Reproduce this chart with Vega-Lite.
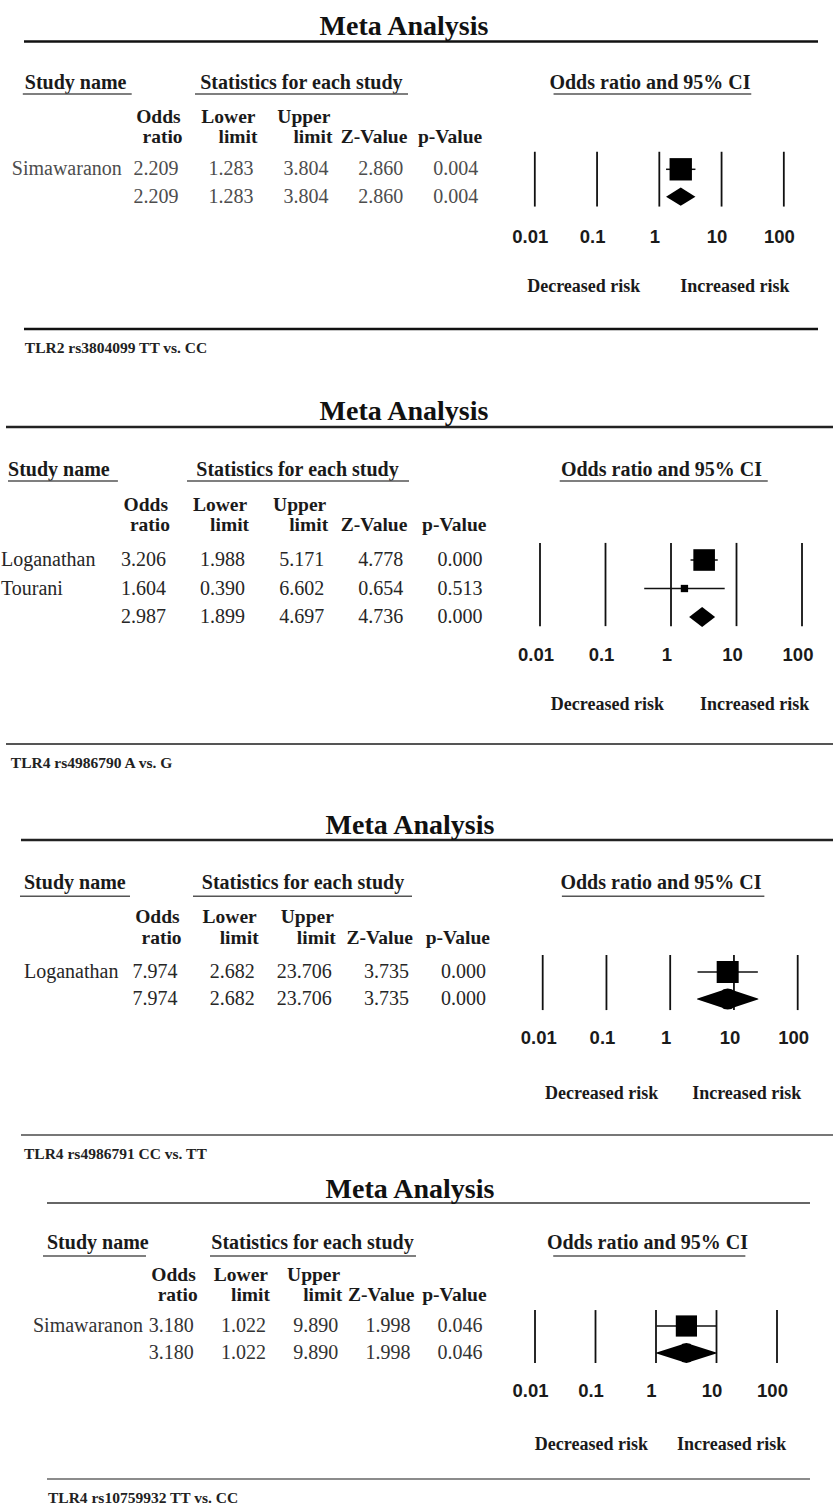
{
  "$schema": "https://vega.github.io/schema/vega-lite/v6.json",
  "padding": 0,
  "spacing": 0,
  "bounds": "flush",
  "background": "white",
  "datasets": {
    "studies": [
      {"panel": 1, "row": 1, "study": "Simawaranon", "type": "study", "or": 2.209, "lower": 1.283, "upper": 3.804, "z": 2.860, "p": 0.004, "weight": 100},
      {"panel": 1, "row": 2, "study": "", "type": "summary", "or": 2.209, "lower": 1.283, "upper": 3.804, "z": 2.860, "p": 0.004},
      {"panel": 2, "row": 1, "study": "Loganathan", "type": "study", "or": 3.206, "lower": 1.988, "upper": 5.171, "z": 4.778, "p": 0.000, "weight": 89.7},
      {"panel": 2, "row": 2, "study": "Tourani", "type": "study", "or": 1.604, "lower": 0.390, "upper": 6.602, "z": 0.654, "p": 0.513, "weight": 10.3},
      {"panel": 2, "row": 3, "study": "", "type": "summary", "or": 2.987, "lower": 1.899, "upper": 4.697, "z": 4.736, "p": 0.000},
      {"panel": 3, "row": 1, "study": "Loganathan", "type": "study", "or": 7.974, "lower": 2.682, "upper": 23.706, "z": 3.735, "p": 0.000, "weight": 100},
      {"panel": 3, "row": 2, "study": "", "type": "summary", "or": 7.974, "lower": 2.682, "upper": 23.706, "z": 3.735, "p": 0.000},
      {"panel": 4, "row": 1, "study": "Simawaranon", "type": "study", "or": 3.180, "lower": 1.022, "upper": 9.890, "z": 1.998, "p": 0.046, "weight": 100},
      {"panel": 4, "row": 2, "study": "", "type": "summary", "or": 3.180, "lower": 1.022, "upper": 9.890, "z": 1.998, "p": 0.046}
    ],
    "headers": [
      {"key": "or", "top": "Odds", "bottom": "ratio"},
      {"key": "lower", "top": "Lower", "bottom": "limit"},
      {"key": "upper", "top": "Upper", "bottom": "limit"},
      {"key": "z", "top": "", "bottom": "Z-Value"},
      {"key": "p", "top": "", "bottom": "p-Value"}
    ],
    "ticks": [
      {"v": 0.01, "label": "0.01"},
      {"v": 0.1, "label": "0.1"},
      {"v": 1, "label": "1"},
      {"v": 10, "label": "10"},
      {"v": 100, "label": "100"}
    ]
  },
  "vconcat": [
    {
      "width": 833, "height": 370,
      "resolve": {"scale": {"x": "independent"}},
      "layer": [
        {
          "layer": [
            {"data": {"values": [{}]}, "mark": {"type": "rule", "stroke": "#111", "strokeWidth": 2.5, "xOffset": -8.8, "x2Offset": 335.8},
             "encoding": {"x": {"datum": "name", "type": "nominal", "scale": {"type": "point", "domain": ["name", "gap", "or", "lower", "upper", "z", "p", "f1", "f2", "f3", "f4"], "padding": 0.5607, "align": 0.3905, "round": false}}, "x2": {"datum": "p"},
                          "y": {"datum": -3.66, "type": "quantitative", "scale": {"domain": [-5.179, 8.325], "reverse": true, "nice": false, "zero": false}}}},
            {"data": {"values": [{}]}, "mark": {"type": "rule", "stroke": "#111", "strokeWidth": 2.5, "xOffset": -8.8, "x2Offset": 335.8},
             "encoding": {"x": {"datum": "name", "type": "nominal"}, "x2": {"datum": "p"}, "y": {"datum": 6.83, "type": "quantitative"}}},
            {"data": {"values": [{}]}, "mark": {"type": "text", "text": "Meta Analysis", "font": "Liberation Serif", "fontWeight": "bold", "fontSize": 28, "align": "center", "baseline": "middle", "dx": 71.6, "fill": "#111"},
             "encoding": {"x": {"datum": "upper", "type": "nominal"}, "y": {"datum": -4.2, "type": "quantitative"}}},
            {"data": {"values": [{}]}, "mark": {"type": "text", "text": "Study name", "font": "Liberation Serif", "fontWeight": "bold", "fontSize": 20, "align": "left", "baseline": "middle", "dx": -8, "fill": "#1a1a1a"},
             "encoding": {"x": {"datum": "name", "type": "nominal"}, "y": {"datum": -2.16, "type": "quantitative"}}},
            {"data": {"values": [{}]}, "mark": {"type": "text", "text": "Statistics for each study", "font": "Liberation Serif", "fontWeight": "bold", "fontSize": 20, "align": "center", "baseline": "middle", "dx": -31, "fill": "#1a1a1a"},
             "encoding": {"x": {"datum": "upper", "type": "nominal"}, "y": {"datum": -2.16, "type": "quantitative"}}},
            {"data": {"values": [{}]}, "mark": {"type": "rule", "stroke": "#555", "strokeWidth": 1.5, "xOffset": -10, "x2Offset": 24},
             "encoding": {"x": {"datum": "name", "type": "nominal"}, "x2": {"datum": "gap"}, "y": {"datum": -1.75, "type": "quantitative"}}},
            {"data": {"values": [{}]}, "mark": {"type": "rule", "stroke": "#555", "strokeWidth": 1.5, "xOffset": 12.4, "x2Offset": 0.7},
             "encoding": {"x": {"datum": "or", "type": "nominal"}, "x2": {"datum": "z"}, "y": {"datum": -1.75, "type": "quantitative"}}},
            {"data": {"name": "headers"}, "mark": {"type": "text", "font": "Liberation Serif", "fontWeight": "bold", "fontSize": 19.5, "align": "right", "baseline": "middle", "dx": -2, "fill": "#1a1a1a"},
             "encoding": {"x": {"field": "key", "type": "nominal"}, "y": {"datum": -0.92, "type": "quantitative"}, "text": {"field": "top"}}},
            {"data": {"name": "headers"}, "mark": {"type": "text", "font": "Liberation Serif", "fontWeight": "bold", "fontSize": 19.5, "align": "right", "baseline": "middle", "dx": 0, "fill": "#1a1a1a"},
             "encoding": {"x": {"field": "key", "type": "nominal"}, "y": {"datum": -0.19, "type": "quantitative"}, "text": {"field": "bottom"}}},
            {"data": {"name": "studies"}, "transform": [{"filter": "datum.panel === 1 && datum.type === 'study'"}],
             "mark": {"type": "text", "font": "Liberation Serif", "fontSize": 20, "align": "left", "baseline": "middle", "dx": -21, "fill": "#4d4d4d"},
             "encoding": {"x": {"datum": "name", "type": "nominal"}, "y": {"field": "row", "type": "quantitative"}, "text": {"field": "study"}}},
            {"data": {"name": "studies"}, "transform": [{"filter": "datum.panel === 1"}, {"fold": ["or", "lower", "upper", "z", "p"], "as": ["key", "value"]}],
             "mark": {"type": "text", "font": "Liberation Serif", "fontSize": 20, "align": "right", "baseline": "middle", "dx": -4, "fill": "#4d4d4d"},
             "encoding": {"x": {"field": "key", "type": "nominal"}, "y": {"field": "row", "type": "quantitative"}, "text": {"field": "value", "type": "quantitative", "format": ".3f"}}},
            {"data": {"values": [{}]}, "mark": {"type": "text", "text": "TLR2 rs3804099 TT vs. CC", "font": "Liberation Serif", "fontWeight": "bold", "fontSize": 15.5, "align": "left", "baseline": "middle", "dx": -8, "fill": "#222"},
             "encoding": {"x": {"datum": "name", "type": "nominal"}, "y": {"datum": 7.51, "type": "quantitative"}}}
          ]
        },
        {
          "resolve": {"scale": {"size": "independent"}},
          "layer": [
            {"data": {"name": "ticks"}, "mark": {"type": "rule", "stroke": "#111", "strokeWidth": 1.8},
             "encoding": {"x": {"field": "v", "type": "quantitative", "scale": {"type": "log", "domain": [2.564e-11, 616.6], "nice": false}}, "y": {"datum": 0.36, "type": "quantitative"}, "y2": {"datum": 2.36}}},
            {"data": {"name": "ticks"}, "mark": {"type": "text", "font": "Liberation Sans", "fontWeight": "bold", "fontSize": 18.5, "align": "center", "baseline": "middle", "dx": -4.5, "fill": "#1a1a1a"},
             "encoding": {"x": {"field": "v", "type": "quantitative"}, "y": {"datum": 3.46, "type": "quantitative"}, "text": {"field": "label"}}},
            {"data": {"name": "studies"}, "transform": [{"filter": "datum.panel === 1 && datum.type === 'study'"}], "mark": {"type": "rule", "stroke": "#111", "strokeWidth": 1.5},
             "encoding": {"x": {"field": "lower", "type": "quantitative"}, "x2": {"field": "upper"}, "y": {"field": "row", "type": "quantitative"}}},
            {"data": {"name": "studies"}, "transform": [{"filter": "datum.panel === 1 && datum.type === 'study'"}], "mark": {"type": "point", "shape": "square", "filled": true, "color": "#000", "opacity": 1},
             "encoding": {"x": {"field": "or", "type": "quantitative"}, "y": {"field": "row", "type": "quantitative"}, "size": {"field": "weight", "type": "quantitative", "scale": {"domain": [0, 100], "range": [0, 500]}, "legend": null}}},
            {"data": {"name": "studies"}, "transform": [{"filter": "datum.panel === 1 && datum.type === 'summary'"}], "mark": {"type": "point", "shape": "M-1,0L0,-0.62L1,0L0,0.62Z", "size": 864, "filled": true, "color": "#000", "opacity": 1},
             "encoding": {"x": {"field": "or", "type": "quantitative"}, "y": {"field": "row", "type": "quantitative"}}},
            {"data": {"values": [{}]}, "mark": {"type": "text", "text": "Odds ratio and 95% CI", "font": "Liberation Serif", "fontWeight": "bold", "fontSize": 20, "align": "center", "baseline": "middle", "dx": -9.3, "fill": "#1a1a1a"},
             "encoding": {"x": {"datum": 1, "type": "quantitative"}, "y": {"datum": -2.16, "type": "quantitative"}}},
            {"data": {"values": [{}]}, "mark": {"type": "rule", "stroke": "#555", "strokeWidth": 1.5},
             "encoding": {"x": {"datum": 0.02, "type": "quantitative"}, "x2": {"datum": 30}, "y": {"datum": -1.75, "type": "quantitative"}}},
            {"data": {"values": [{}]}, "mark": {"type": "text", "text": "Decreased risk", "font": "Liberation Serif", "fontWeight": "bold", "fontSize": 18, "align": "right", "baseline": "middle", "dx": -19, "fill": "#1a1a1a"},
             "encoding": {"x": {"datum": 1, "type": "quantitative"}, "y": {"datum": 5.31, "type": "quantitative"}}},
            {"data": {"values": [{}]}, "mark": {"type": "text", "text": "Increased risk", "font": "Liberation Serif", "fontWeight": "bold", "fontSize": 18, "align": "left", "baseline": "middle", "dx": 21, "fill": "#1a1a1a"},
             "encoding": {"x": {"datum": 1, "type": "quantitative"}, "y": {"datum": 5.31, "type": "quantitative"}}}
          ]
        }
      ]
    },
    {
      "width": 833, "height": 420,
      "resolve": {"scale": {"x": "independent"}},
      "layer": [
        {
          "layer": [
            {"data": {"values": [{}]}, "mark": {"type": "rule", "stroke": "#222", "strokeWidth": 2.5, "xOffset": -5.8, "x2Offset": 346.6},
             "encoding": {"x": {"datum": "name", "type": "nominal", "scale": {"type": "point", "domain": ["name", "gap", "or", "lower", "upper", "z", "p", "f1", "f2", "f3", "f4"], "padding": 0.2655, "align": 0.281, "round": false}}, "x2": {"datum": "p"},
                          "y": {"datum": -3.67, "type": "quantitative", "scale": {"domain": [-5.667, 9.070], "reverse": true, "nice": false, "zero": false}}}},
            {"data": {"values": [{}]}, "mark": {"type": "rule", "stroke": "#555", "strokeWidth": 2, "xOffset": -5.8, "x2Offset": 346.6},
             "encoding": {"x": {"datum": "name", "type": "nominal"}, "x2": {"datum": "p"}, "y": {"datum": 7.46, "type": "quantitative"}}},
            {"data": {"values": [{}]}, "mark": {"type": "text", "text": "Meta Analysis", "font": "Liberation Serif", "fontWeight": "bold", "fontSize": 28, "align": "center", "baseline": "middle", "dx": 75.8, "fill": "#111"},
             "encoding": {"x": {"datum": "upper", "type": "nominal"}, "y": {"datum": -4.19, "type": "quantitative"}}},
            {"data": {"values": [{}]}, "mark": {"type": "text", "text": "Study name", "font": "Liberation Serif", "fontWeight": "bold", "fontSize": 20, "align": "left", "baseline": "middle", "dx": -3.8, "fill": "#1a1a1a"},
             "encoding": {"x": {"datum": "name", "type": "nominal"}, "y": {"datum": -2.16, "type": "quantitative"}}},
            {"data": {"values": [{}]}, "mark": {"type": "text", "text": "Statistics for each study", "font": "Liberation Serif", "fontWeight": "bold", "fontSize": 20, "align": "center", "baseline": "middle", "dx": -30.7, "fill": "#1a1a1a"},
             "encoding": {"x": {"datum": "upper", "type": "nominal"}, "y": {"datum": -2.16, "type": "quantitative"}}},
            {"data": {"values": [{}]}, "mark": {"type": "rule", "stroke": "#555", "strokeWidth": 1.5, "xOffset": -3.8, "x2Offset": 27},
             "encoding": {"x": {"datum": "name", "type": "nominal"}, "x2": {"datum": "gap"}, "y": {"datum": -1.77, "type": "quantitative"}}},
            {"data": {"values": [{}]}, "mark": {"type": "rule", "stroke": "#555", "strokeWidth": 1.5, "xOffset": 17, "x2Offset": 1.7},
             "encoding": {"x": {"datum": "or", "type": "nominal"}, "x2": {"datum": "z"}, "y": {"datum": -1.77, "type": "quantitative"}}},
            {"data": {"name": "headers"}, "mark": {"type": "text", "font": "Liberation Serif", "fontWeight": "bold", "fontSize": 19.5, "align": "right", "baseline": "middle", "dx": -2, "fill": "#1a1a1a"},
             "encoding": {"x": {"field": "key", "type": "nominal"}, "y": {"datum": -0.93, "type": "quantitative"}, "text": {"field": "top"}}},
            {"data": {"name": "headers"}, "mark": {"type": "text", "font": "Liberation Serif", "fontWeight": "bold", "fontSize": 19.5, "align": "right", "baseline": "middle", "dx": 0, "fill": "#1a1a1a"},
             "encoding": {"x": {"field": "key", "type": "nominal"}, "y": {"datum": -0.23, "type": "quantitative"}, "text": {"field": "bottom"}}},
            {"data": {"name": "studies"}, "transform": [{"filter": "datum.panel === 2 && datum.type === 'study'"}],
             "mark": {"type": "text", "font": "Liberation Serif", "fontSize": 20, "align": "left", "baseline": "middle", "dx": -10.8, "fill": "#262626"},
             "encoding": {"x": {"datum": "name", "type": "nominal"}, "y": {"field": "row", "type": "quantitative"}, "text": {"field": "study"}}},
            {"data": {"name": "studies"}, "transform": [{"filter": "datum.panel === 2"}, {"fold": ["or", "lower", "upper", "z", "p"], "as": ["key", "value"]}],
             "mark": {"type": "text", "font": "Liberation Serif", "fontSize": 20, "align": "right", "baseline": "middle", "dx": -4, "fill": "#262626"},
             "encoding": {"x": {"field": "key", "type": "nominal"}, "y": {"field": "row", "type": "quantitative"}, "text": {"field": "value", "type": "quantitative", "format": ".3f"}}},
            {"data": {"values": [{}]}, "mark": {"type": "text", "text": "TLR4 rs4986790  A vs. G", "font": "Liberation Serif", "fontWeight": "bold", "fontSize": 15.5, "align": "left", "baseline": "middle", "dx": -1, "fill": "#222"},
             "encoding": {"x": {"datum": "name", "type": "nominal"}, "y": {"datum": 8.12, "type": "quantitative"}}}
          ]
        },
        {
          "resolve": {"scale": {"size": "independent"}},
          "layer": [
            {"data": {"name": "ticks"}, "mark": {"type": "rule", "stroke": "#111", "strokeWidth": 1.8},
             "encoding": {"x": {"field": "v", "type": "quantitative", "scale": {"type": "log", "domain": [5.70e-11, 297.3], "nice": false}}, "y": {"datum": 0.40, "type": "quantitative"}, "y2": {"datum": 3.32}}},
            {"data": {"name": "ticks"}, "mark": {"type": "text", "font": "Liberation Sans", "fontWeight": "bold", "fontSize": 18.5, "align": "center", "baseline": "middle", "dx": -4, "fill": "#1a1a1a"},
             "encoding": {"x": {"field": "v", "type": "quantitative"}, "y": {"datum": 4.33, "type": "quantitative"}, "text": {"field": "label"}}},
            {"data": {"name": "studies"}, "transform": [{"filter": "datum.panel === 2 && datum.type === 'study'"}], "mark": {"type": "rule", "stroke": "#111", "strokeWidth": 1.5},
             "encoding": {"x": {"field": "lower", "type": "quantitative"}, "x2": {"field": "upper"}, "y": {"field": "row", "type": "quantitative"}}},
            {"data": {"name": "studies"}, "transform": [{"filter": "datum.panel === 2 && datum.type === 'study'"}], "mark": {"type": "point", "shape": "square", "filled": true, "color": "#000", "opacity": 1},
             "encoding": {"x": {"field": "or", "type": "quantitative"}, "y": {"field": "row", "type": "quantitative"}, "size": {"field": "weight", "type": "quantitative", "scale": {"domain": [0, 100], "range": [0, 520]}, "legend": null}}},
            {"data": {"name": "studies"}, "transform": [{"filter": "datum.panel === 2 && datum.type === 'summary'"}], "mark": {"type": "point", "shape": "M-1,0L0,-0.77L1,0L0,0.77Z", "size": 676, "filled": true, "color": "#000", "opacity": 1},
             "encoding": {"x": {"field": "or", "type": "quantitative"}, "y": {"field": "row", "type": "quantitative"}}},
            {"data": {"values": [{}]}, "mark": {"type": "text", "text": "Odds ratio and 95% CI", "font": "Liberation Serif", "fontWeight": "bold", "fontSize": 20, "align": "center", "baseline": "middle", "dx": -9.5, "fill": "#1a1a1a"},
             "encoding": {"x": {"datum": 1, "type": "quantitative"}, "y": {"datum": -2.16, "type": "quantitative"}}},
            {"data": {"values": [{}]}, "mark": {"type": "rule", "stroke": "#555", "strokeWidth": 1.5},
             "encoding": {"x": {"datum": 0.02, "type": "quantitative"}, "x2": {"datum": 30}, "y": {"datum": -1.77, "type": "quantitative"}}},
            {"data": {"values": [{}]}, "mark": {"type": "text", "text": "Decreased risk", "font": "Liberation Serif", "fontWeight": "bold", "fontSize": 18, "align": "right", "baseline": "middle", "dx": -7, "fill": "#1a1a1a"},
             "encoding": {"x": {"datum": 1, "type": "quantitative"}, "y": {"datum": 6.09, "type": "quantitative"}}},
            {"data": {"values": [{}]}, "mark": {"type": "text", "text": "Increased risk", "font": "Liberation Serif", "fontWeight": "bold", "fontSize": 18, "align": "left", "baseline": "middle", "dx": 29, "fill": "#1a1a1a"},
             "encoding": {"x": {"datum": 1, "type": "quantitative"}, "y": {"datum": 6.09, "type": "quantitative"}}}
          ]
        }
      ]
    },
    {
      "width": 833, "height": 380,
      "resolve": {"scale": {"x": "independent"}},
      "layer": [
        {
          "layer": [
            {"data": {"values": [{}]}, "mark": {"type": "rule", "stroke": "#222", "strokeWidth": 2.5, "xOffset": -6.4, "x2Offset": 343},
             "encoding": {"x": {"datum": "name", "type": "nominal", "scale": {"type": "point", "domain": ["name", "gap", "or", "lower", "upper", "z", "p", "f1", "f2", "f3", "f4"], "padding": 0.402, "align": 0.4419, "round": false}}, "x2": {"datum": "p"},
                          "y": {"datum": -3.89, "type": "quantitative", "scale": {"domain": [-5.741, 8.333], "reverse": true, "nice": false, "zero": false}}}},
            {"data": {"values": [{}]}, "mark": {"type": "rule", "stroke": "#777", "strokeWidth": 2, "xOffset": -6.4, "x2Offset": 343},
             "encoding": {"x": {"datum": "name", "type": "nominal"}, "x2": {"datum": "p"}, "y": {"datum": 7.04, "type": "quantitative"}}},
            {"data": {"values": [{}]}, "mark": {"type": "text", "text": "Meta Analysis", "font": "Liberation Serif", "fontWeight": "bold", "fontSize": 28, "align": "center", "baseline": "middle", "dx": 74.2, "fill": "#111"},
             "encoding": {"x": {"datum": "upper", "type": "nominal"}, "y": {"datum": -4.41, "type": "quantitative"}}},
            {"data": {"values": [{}]}, "mark": {"type": "text", "text": "Study name", "font": "Liberation Serif", "fontWeight": "bold", "fontSize": 20, "align": "left", "baseline": "middle", "dx": -3.4, "fill": "#1a1a1a"},
             "encoding": {"x": {"datum": "name", "type": "nominal"}, "y": {"datum": -2.30, "type": "quantitative"}}},
            {"data": {"values": [{}]}, "mark": {"type": "text", "text": "Statistics for each study", "font": "Liberation Serif", "fontWeight": "bold", "fontSize": 20, "align": "center", "baseline": "middle", "dx": -32.8, "fill": "#1a1a1a"},
             "encoding": {"x": {"datum": "upper", "type": "nominal"}, "y": {"datum": -2.30, "type": "quantitative"}}},
            {"data": {"values": [{}]}, "mark": {"type": "rule", "stroke": "#555", "strokeWidth": 1.5, "xOffset": -7.4, "x2Offset": 25.5},
             "encoding": {"x": {"datum": "name", "type": "nominal"}, "x2": {"datum": "gap"}, "y": {"datum": -1.81, "type": "quantitative"}}},
            {"data": {"values": [{}]}, "mark": {"type": "rule", "stroke": "#555", "strokeWidth": 1.5, "xOffset": 11.4, "x2Offset": -0.9},
             "encoding": {"x": {"datum": "or", "type": "nominal"}, "x2": {"datum": "z"}, "y": {"datum": -1.81, "type": "quantitative"}}},
            {"data": {"name": "headers"}, "mark": {"type": "text", "font": "Liberation Serif", "fontWeight": "bold", "fontSize": 19.5, "align": "right", "baseline": "middle", "dx": -2, "fill": "#1a1a1a"},
             "encoding": {"x": {"field": "key", "type": "nominal"}, "y": {"datum": -1.04, "type": "quantitative"}, "text": {"field": "top"}}},
            {"data": {"name": "headers"}, "mark": {"type": "text", "font": "Liberation Serif", "fontWeight": "bold", "fontSize": 19.5, "align": "right", "baseline": "middle", "dx": 0, "fill": "#1a1a1a"},
             "encoding": {"x": {"field": "key", "type": "nominal"}, "y": {"datum": -0.26, "type": "quantitative"}, "text": {"field": "bottom"}}},
            {"data": {"name": "studies"}, "transform": [{"filter": "datum.panel === 3 && datum.type === 'study'"}],
             "mark": {"type": "text", "font": "Liberation Serif", "fontSize": 20, "align": "left", "baseline": "middle", "dx": -3.4, "fill": "#262626"},
             "encoding": {"x": {"datum": "name", "type": "nominal"}, "y": {"field": "row", "type": "quantitative"}, "text": {"field": "study"}}},
            {"data": {"name": "studies"}, "transform": [{"filter": "datum.panel === 3"}, {"fold": ["or", "lower", "upper", "z", "p"], "as": ["key", "value"]}],
             "mark": {"type": "text", "font": "Liberation Serif", "fontSize": 20, "align": "right", "baseline": "middle", "dx": -4, "fill": "#262626"},
             "encoding": {"x": {"field": "key", "type": "nominal"}, "y": {"field": "row", "type": "quantitative"}, "text": {"field": "value", "type": "quantitative", "format": ".3f"}}},
            {"data": {"values": [{}]}, "mark": {"type": "text", "text": "TLR4 rs4986791  CC vs. TT", "font": "Liberation Serif", "fontWeight": "bold", "fontSize": 15.5, "align": "left", "baseline": "middle", "dx": -3.4, "fill": "#222"},
             "encoding": {"x": {"datum": "name", "type": "nominal"}, "y": {"datum": 7.74, "type": "quantitative"}}}
          ]
        },
        {
          "resolve": {"scale": {"size": "independent"}},
          "layer": [
            {"data": {"name": "ticks"}, "mark": {"type": "rule", "stroke": "#111", "strokeWidth": 1.8},
             "encoding": {"x": {"field": "v", "type": "quantitative", "scale": {"type": "log", "domain": [3.069e-11, 357.9], "nice": false}}, "y": {"datum": 0.37, "type": "quantitative"}, "y2": {"datum": 2.41}}},
            {"data": {"name": "ticks"}, "mark": {"type": "text", "font": "Liberation Sans", "fontWeight": "bold", "fontSize": 18.5, "align": "center", "baseline": "middle", "dx": -4, "fill": "#1a1a1a"},
             "encoding": {"x": {"field": "v", "type": "quantitative"}, "y": {"datum": 3.44, "type": "quantitative"}, "text": {"field": "label"}}},
            {"data": {"name": "studies"}, "transform": [{"filter": "datum.panel === 3 && datum.type === 'study'"}], "mark": {"type": "rule", "stroke": "#111", "strokeWidth": 1.5},
             "encoding": {"x": {"field": "lower", "type": "quantitative"}, "x2": {"field": "upper"}, "y": {"field": "row", "type": "quantitative"}}},
            {"data": {"name": "studies"}, "transform": [{"filter": "datum.panel === 3 && datum.type === 'study'"}], "mark": {"type": "point", "shape": "square", "filled": true, "color": "#000", "opacity": 1},
             "encoding": {"x": {"field": "or", "type": "quantitative"}, "y": {"field": "row", "type": "quantitative"}, "size": {"field": "weight", "type": "quantitative", "scale": {"domain": [0, 100], "range": [0, 484]}, "legend": null}}},
            {"data": {"name": "studies"}, "transform": [{"filter": "datum.panel === 3 && datum.type === 'summary'"}, {"fold": ["lower", "or", "upper"], "as": ["vk", "vv"]}], "mark": {"type": "trail", "color": "#000"},
             "encoding": {"x": {"field": "vv", "type": "quantitative"}, "y": {"field": "row", "type": "quantitative"}, "size": {"field": "vk", "type": "ordinal", "scale": {"type": "ordinal", "domain": ["lower", "or", "upper"], "range": [0, 21, 0]}, "legend": null}}},
            {"data": {"values": [{}]}, "mark": {"type": "text", "text": "Odds ratio and 95% CI", "font": "Liberation Serif", "fontWeight": "bold", "fontSize": 20, "align": "center", "baseline": "middle", "dx": -9.2, "fill": "#1a1a1a"},
             "encoding": {"x": {"datum": 1, "type": "quantitative"}, "y": {"datum": -2.30, "type": "quantitative"}}},
            {"data": {"values": [{}]}, "mark": {"type": "rule", "stroke": "#555", "strokeWidth": 1.5},
             "encoding": {"x": {"datum": 0.02, "type": "quantitative"}, "x2": {"datum": 30}, "y": {"datum": -1.81, "type": "quantitative"}}},
            {"data": {"values": [{}]}, "mark": {"type": "text", "text": "Decreased risk", "font": "Liberation Serif", "fontWeight": "bold", "fontSize": 18, "align": "right", "baseline": "middle", "dx": -12, "fill": "#1a1a1a"},
             "encoding": {"x": {"datum": 1, "type": "quantitative"}, "y": {"datum": 5.52, "type": "quantitative"}}},
            {"data": {"values": [{}]}, "mark": {"type": "text", "text": "Increased risk", "font": "Liberation Serif", "fontWeight": "bold", "fontSize": 18, "align": "left", "baseline": "middle", "dx": 22, "fill": "#1a1a1a"},
             "encoding": {"x": {"datum": 1, "type": "quantitative"}, "y": {"datum": 5.52, "type": "quantitative"}}}
          ]
        }
      ]
    },
    {
      "width": 833, "height": 333,
      "resolve": {"scale": {"x": "independent"}},
      "layer": [
        {
          "layer": [
            {"data": {"values": [{}]}, "mark": {"type": "rule", "stroke": "#333", "strokeWidth": 1.5, "xOffset": -6.4, "x2Offset": 323.4},
             "encoding": {"x": {"datum": "name", "type": "nominal", "scale": {"type": "point", "domain": ["name", "gap", "or", "lower", "upper", "z", "p", "f1", "f2", "f3", "f4"], "padding": 0.7687, "align": 0.481, "round": false}}, "x2": {"datum": "p"},
                          "y": {"datum": -3.56, "type": "quantitative", "scale": {"domain": [-4.778, 7.556], "reverse": true, "nice": false, "zero": false}}}},
            {"data": {"values": [{}]}, "mark": {"type": "rule", "stroke": "#666", "strokeWidth": 1.5, "xOffset": -6.4, "x2Offset": 323.4},
             "encoding": {"x": {"datum": "name", "type": "nominal"}, "x2": {"datum": "p"}, "y": {"datum": 6.67, "type": "quantitative"}}},
            {"data": {"values": [{}]}, "mark": {"type": "text", "text": "Meta Analysis", "font": "Liberation Serif", "fontWeight": "bold", "fontSize": 28, "align": "center", "baseline": "middle", "dx": 67.8, "fill": "#111"},
             "encoding": {"x": {"datum": "upper", "type": "nominal"}, "y": {"datum": -4.04, "type": "quantitative"}}},
            {"data": {"values": [{}]}, "mark": {"type": "text", "text": "Study name", "font": "Liberation Serif", "fontWeight": "bold", "fontSize": 20, "align": "left", "baseline": "middle", "dx": -6.4, "fill": "#1a1a1a"},
             "encoding": {"x": {"datum": "name", "type": "nominal"}, "y": {"datum": -2.07, "type": "quantitative"}}},
            {"data": {"values": [{}]}, "mark": {"type": "text", "text": "Statistics for each study", "font": "Liberation Serif", "fontWeight": "bold", "fontSize": 20, "align": "center", "baseline": "middle", "dx": -29.7, "fill": "#1a1a1a"},
             "encoding": {"x": {"datum": "upper", "type": "nominal"}, "y": {"datum": -2.07, "type": "quantitative"}}},
            {"data": {"values": [{}]}, "mark": {"type": "rule", "stroke": "#555", "strokeWidth": 1.5, "xOffset": -10.4, "x2Offset": 20.4},
             "encoding": {"x": {"datum": "name", "type": "nominal"}, "x2": {"datum": "gap"}, "y": {"datum": -1.59, "type": "quantitative"}}},
            {"data": {"values": [{}]}, "mark": {"type": "rule", "stroke": "#555", "strokeWidth": 1.5, "xOffset": 12.2, "x2Offset": 1.6},
             "encoding": {"x": {"datum": "or", "type": "nominal"}, "x2": {"datum": "z"}, "y": {"datum": -1.59, "type": "quantitative"}}},
            {"data": {"name": "headers"}, "mark": {"type": "text", "font": "Liberation Serif", "fontWeight": "bold", "fontSize": 19.5, "align": "right", "baseline": "middle", "dx": -2, "fill": "#1a1a1a"},
             "encoding": {"x": {"field": "key", "type": "nominal"}, "y": {"datum": -0.89, "type": "quantitative"}, "text": {"field": "top"}}},
            {"data": {"name": "headers"}, "mark": {"type": "text", "font": "Liberation Serif", "fontWeight": "bold", "fontSize": 19.5, "align": "right", "baseline": "middle", "dx": 0, "fill": "#1a1a1a"},
             "encoding": {"x": {"field": "key", "type": "nominal"}, "y": {"datum": -0.15, "type": "quantitative"}, "text": {"field": "bottom"}}},
            {"data": {"name": "studies"}, "transform": [{"filter": "datum.panel === 4 && datum.type === 'study'"}],
             "mark": {"type": "text", "font": "Liberation Serif", "fontSize": 20, "align": "left", "baseline": "middle", "dx": -20.4, "fill": "#333"},
             "encoding": {"x": {"datum": "name", "type": "nominal"}, "y": {"field": "row", "type": "quantitative"}, "text": {"field": "study"}}},
            {"data": {"name": "studies"}, "transform": [{"filter": "datum.panel === 4"}, {"fold": ["or", "lower", "upper", "z", "p"], "as": ["key", "value"]}],
             "mark": {"type": "text", "font": "Liberation Serif", "fontSize": 20, "align": "right", "baseline": "middle", "dx": -4, "fill": "#333"},
             "encoding": {"x": {"field": "key", "type": "nominal"}, "y": {"field": "row", "type": "quantitative"}, "text": {"field": "value", "type": "quantitative", "format": ".3f"}}},
            {"data": {"values": [{}]}, "mark": {"type": "text", "text": "TLR4 rs10759932 TT vs. CC", "font": "Liberation Serif", "fontWeight": "bold", "fontSize": 15.5, "align": "left", "baseline": "middle", "dx": -5.4, "fill": "#222"},
             "encoding": {"x": {"datum": "name", "type": "nominal"}, "y": {"datum": 7.37, "type": "quantitative"}}}
          ]
        },
        {
          "resolve": {"scale": {"size": "independent"}},
          "layer": [
            {"data": {"name": "ticks"}, "mark": {"type": "rule", "stroke": "#111", "strokeWidth": 1.8},
             "encoding": {"x": {"field": "v", "type": "quantitative", "scale": {"type": "log", "domain": [1.435e-11, 842.6], "nice": false}}, "y": {"datum": 0.41, "type": "quantitative"}, "y2": {"datum": 2.37}}},
            {"data": {"name": "ticks"}, "mark": {"type": "text", "font": "Liberation Sans", "fontWeight": "bold", "fontSize": 18.5, "align": "center", "baseline": "middle", "dx": -4.5, "fill": "#1a1a1a"},
             "encoding": {"x": {"field": "v", "type": "quantitative"}, "y": {"datum": 3.41, "type": "quantitative"}, "text": {"field": "label"}}},
            {"data": {"name": "studies"}, "transform": [{"filter": "datum.panel === 4 && datum.type === 'study'"}], "mark": {"type": "rule", "stroke": "#111", "strokeWidth": 1.5},
             "encoding": {"x": {"field": "lower", "type": "quantitative"}, "x2": {"field": "upper"}, "y": {"field": "row", "type": "quantitative"}}},
            {"data": {"name": "studies"}, "transform": [{"filter": "datum.panel === 4 && datum.type === 'study'"}], "mark": {"type": "point", "shape": "square", "filled": true, "color": "#000", "opacity": 1},
             "encoding": {"x": {"field": "or", "type": "quantitative"}, "y": {"field": "row", "type": "quantitative"}, "size": {"field": "weight", "type": "quantitative", "scale": {"domain": [0, 100], "range": [0, 450]}, "legend": null}}},
            {"data": {"name": "studies"}, "transform": [{"filter": "datum.panel === 4 && datum.type === 'summary'"}, {"fold": ["lower", "or", "upper"], "as": ["vk", "vv"]}], "mark": {"type": "trail", "color": "#000"},
             "encoding": {"x": {"field": "vv", "type": "quantitative"}, "y": {"field": "row", "type": "quantitative"}, "size": {"field": "vk", "type": "ordinal", "scale": {"type": "ordinal", "domain": ["lower", "or", "upper"], "range": [0, 20, 0]}, "legend": null}}},
            {"data": {"values": [{}]}, "mark": {"type": "text", "text": "Odds ratio and 95% CI", "font": "Liberation Serif", "fontWeight": "bold", "fontSize": 20, "align": "center", "baseline": "middle", "dx": -8.5, "fill": "#1a1a1a"},
             "encoding": {"x": {"datum": 1, "type": "quantitative"}, "y": {"datum": -2.07, "type": "quantitative"}}},
            {"data": {"values": [{}]}, "mark": {"type": "rule", "stroke": "#555", "strokeWidth": 1.5},
             "encoding": {"x": {"datum": 0.02, "type": "quantitative"}, "x2": {"datum": 30}, "y": {"datum": -1.59, "type": "quantitative"}}},
            {"data": {"values": [{}]}, "mark": {"type": "text", "text": "Decreased risk", "font": "Liberation Serif", "fontWeight": "bold", "fontSize": 18, "align": "right", "baseline": "middle", "dx": -8, "fill": "#1a1a1a"},
             "encoding": {"x": {"datum": 1, "type": "quantitative"}, "y": {"datum": 5.41, "type": "quantitative"}}},
            {"data": {"values": [{}]}, "mark": {"type": "text", "text": "Increased risk", "font": "Liberation Serif", "fontWeight": "bold", "fontSize": 18, "align": "left", "baseline": "middle", "dx": 21, "fill": "#1a1a1a"},
             "encoding": {"x": {"datum": 1, "type": "quantitative"}, "y": {"datum": 5.41, "type": "quantitative"}}}
          ]
        }
      ]
    }
  ],
  "config": {
    "view": {"stroke": null},
    "axis": {"disable": true},
    "legend": {"disable": true},
    "concat": {"spacing": 0}
  }
}
